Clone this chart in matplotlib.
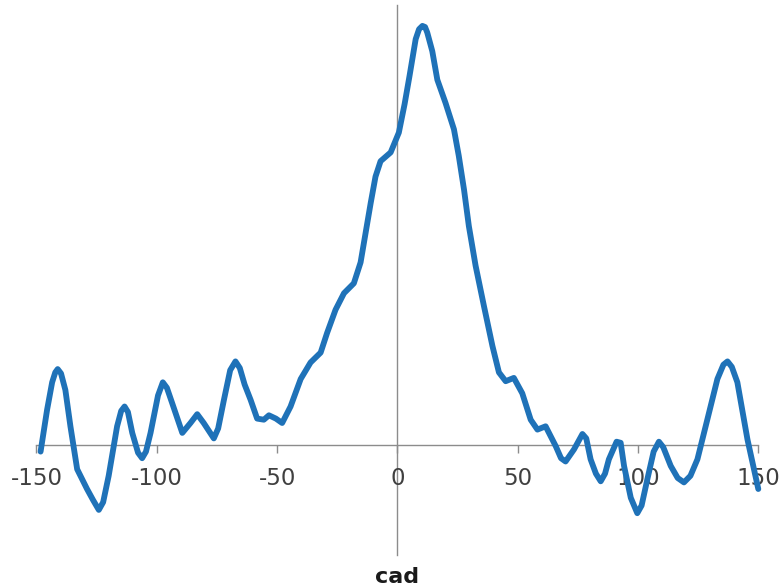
import matplotlib
matplotlib.use("Agg")
import matplotlib.pyplot as plt

# cross-correlation profile vs. cadence lag
lag = [-148.3, -145.6, -143.5, -142.2, -141.2, -139.8, -138.0, -135.9, -133.1,
       -129.0, -126.5, -124.1, -122.3, -120.0, -116.5, -114.8, -113.4, -112.0,
       -110.2, -107.8, -106.1, -104.5, -102.6, -99.5, -97.5, -95.8, -93.6,
       -89.4, -86.0, -83.2, -80.5, -76.3, -74.5, -72.1, -69.5, -67.3, -65.5,
       -63.5, -61.0, -58.3, -55.5, -53.4, -50.5, -47.9, -44.4, -40.2, -36.1,
       -31.9, -29.2, -25.7, -22.2, -18.1, -15.3, -13.2, -11.1, -9.1, -7.0,
       -2.8, 0.6, 3.0, 5.0, 7.6, 9.0, 10.4, 11.5, 12.4, 14.5, 16.6, 20.0,
       23.5, 25.5, 27.7, 29.7, 32.5, 36.0, 39.5, 42.2, 45.0, 48.4, 51.9, 55.4,
       58.2, 61.6, 65.8, 68.0, 69.9, 73.4, 76.9, 78.5, 80.3, 82.5, 84.5, 86.3,
       87.9, 91.1, 92.8, 94.2, 97.0, 99.7, 101.5, 103.9, 106.5, 108.7, 110.5,
       113.6, 116.5, 119.1, 121.8, 124.7, 128.8, 133.0, 135.5, 137.2, 139.0,
       141.3, 145.5, 150.0]
corr = [-0.06, 0.32, 0.57, 0.66, 0.69, 0.65, 0.50, 0.17, -0.22,
        -0.40, -0.50, -0.59, -0.52, -0.28, 0.17, 0.31, 0.35, 0.30,
        0.11, -0.07, -0.12, -0.06, 0.11, 0.45, 0.57, 0.52, 0.38,
        0.11, 0.20, 0.28, 0.20, 0.06, 0.15, 0.41, 0.68, 0.76, 0.70,
        0.55, 0.41, 0.24, 0.23, 0.27, 0.24, 0.20, 0.35, 0.60, 0.75,
        0.84, 1.02, 1.23, 1.38, 1.47, 1.66, 1.93, 2.20, 2.44, 2.58,
        2.66, 2.84, 3.10, 3.35, 3.69, 3.78, 3.81, 3.80, 3.75, 3.58, 3.32, 3.11,
        2.87, 2.63, 2.32, 1.99, 1.63, 1.26, 0.90, 0.66, 0.58, 0.61, 0.47, 0.23,
        0.14, 0.17, -0.01, -0.12, -0.15, -0.04, 0.10, 0.06, -0.13, -0.26, -0.33, -0.26,
        -0.13, 0.03, 0.02, -0.19, -0.48, -0.62, -0.55, -0.31, -0.06, 0.03, -0.02,
        -0.19, -0.30, -0.34, -0.28, -0.13, 0.23, 0.60, 0.73, 0.76, 0.71,
        0.57, 0.05, -0.40]
xticks = [-150, -100, -50, 0, 50, 100, 150]

fig = plt.figure(figsize=(7.82, 5.88), dpi=100)
ax = fig.add_axes([36.5 / 782, 33 / 588, 721.8 / 782, 550 / 588])

ax.plot(lag, corr, color="#1f72b8", lw=4.2, solid_joinstyle="round",
        solid_capstyle="round", clip_on=False, zorder=3)

ax.set_xlim(-150, 150)
ax.set_ylim(-1, 4)

for side in ("top", "right"):
    ax.spines[side].set_visible(False)
ax.spines["bottom"].set_position(("data", 0))
ax.spines["left"].set_position(("data", 0))
for side in ("bottom", "left"):
    ax.spines[side].set_color("#8c8c8c")
    ax.spines[side].set_linewidth(1.0)
    ax.spines[side].set_zorder(1)

ax.set_xticks(xticks)
ax.set_xticklabels([str(t) for t in xticks])
ax.tick_params(axis="x", direction="out", length=6, width=1.0, color="#8c8c8c",
               labelsize=16.5, labelcolor="#404040", pad=10)
ax.set_yticks([])

fig.text(397.5 / 782, 1 - 577 / 588, "cad", ha="center", va="center",
         fontsize=16, fontweight="bold", color="#1a1a1a")

fig.savefig("out.png", dpi=100)
